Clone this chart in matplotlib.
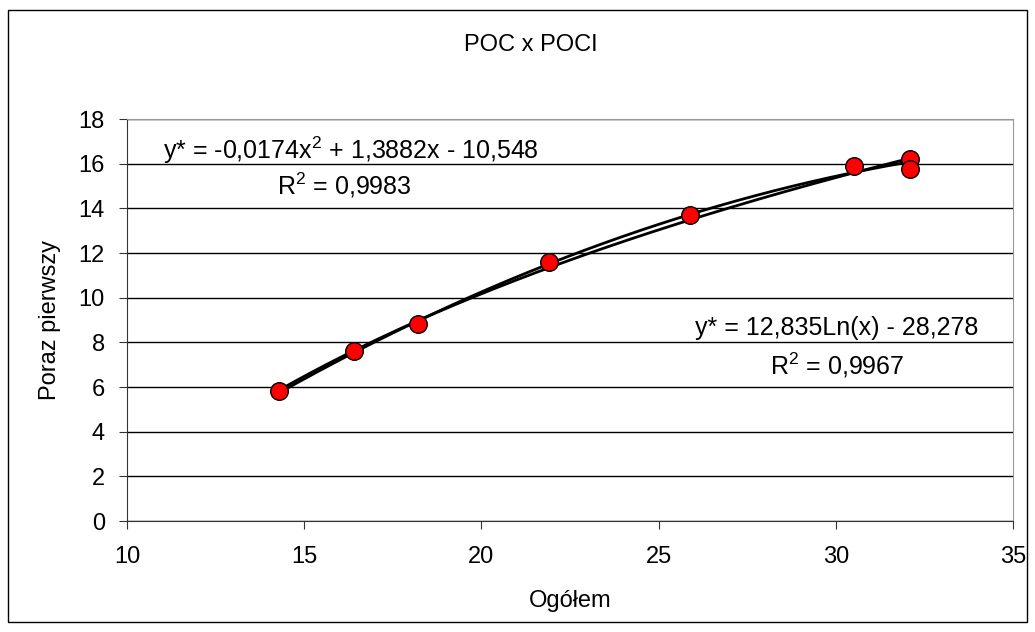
import numpy as np
import matplotlib.pyplot as plt
from matplotlib.patches import Rectangle

plt.rcParams['font.family'] = ['Liberation Sans', 'DejaVu Sans']
plt.rcParams['mathtext.fontset'] = 'custom'
plt.rcParams['mathtext.rm'] = 'Liberation Sans'
plt.rcParams['mathtext.it'] = 'Liberation Sans'

ogolem = [14.3, 16.4, 18.2, 21.9, 25.9, 30.5, 32.1, 32.1]
poraz_pierwszy = [5.8, 7.6, 8.8, 11.6, 13.7, 15.9, 16.2, 15.75]

# trendline coefficients as printed on the chart
quad_coef = [-0.0174, 1.3882, -10.548]
log_coef = [12.835, -28.278]

fig = plt.figure(figsize=(10.35, 6.32), dpi=100)
ax = fig.add_axes([127 / 1035, 1 - 521 / 632, 886 / 1035, 402 / 632])

# outer chart frame
fig.patches.append(Rectangle((0.008, 0.016), 0.984, 0.968, transform=fig.transFigure,
                             fill=False, edgecolor='black', linewidth=1.0))

xs = np.linspace(min(ogolem), max(ogolem), 200)
ax.plot(xs, np.polyval(quad_coef, xs), color='black', linewidth=2.0, zorder=3)
ax.plot(xs, log_coef[0] * np.log(xs) + log_coef[1], color='black', linewidth=2.0, zorder=3)
ax.scatter(ogolem, poraz_pierwszy, s=160, color='#ff0000', edgecolor='black',
           linewidth=1.0, zorder=4)

ax.set_xlim(10, 35)
ax.set_ylim(0, 18)
ax.set_xticks(range(10, 36, 5))
ax.set_yticks(range(0, 19, 2))
ax.yaxis.grid(True, color='black', linewidth=1.0)
ax.set_axisbelow(True)
for side in ['top', 'right']:
    ax.spines[side].set_color('#999999')
for side in ['left', 'bottom']:
    ax.spines[side].set_color('#333333')
ax.tick_params(axis='both', direction='out', length=6, labelsize=17, color='#333333')
ax.tick_params(axis='x', pad=12)
ax.tick_params(axis='y', pad=10)

ax.set_xlabel('Ogółem', fontsize=17)
ax.set_ylabel('Poraz pierwszy', fontsize=17)
ax.xaxis.set_label_coords(0.5, -0.172)
ax.yaxis.set_label_coords(-0.074, 0.5)
fig.text(531 / 1035, 1 - 45 / 632, 'POC x POCI', fontsize=17, ha='center', va='center')

ax.text(163 / 1035, 1 - 150 / 632, r'y* = -0,0174x$^2$ + 1,3882x - 10,548',
        transform=fig.transFigure, fontsize=18, ha='left', va='center')
ax.text(277 / 1035, 1 - 185 / 632, r'R$^2$ = 0,9983', transform=fig.transFigure,
        fontsize=18, ha='left', va='center')
ax.text(695 / 1035, 1 - 328 / 632, r'y* = 12,835Ln(x) - 28,278', transform=fig.transFigure,
        fontsize=18, ha='left', va='center')
ax.text(770 / 1035, 1 - 365 / 632, r'R$^2$ = 0,9967', transform=fig.transFigure,
        fontsize=18, ha='left', va='center')

fig.savefig('out.png', dpi=100)
